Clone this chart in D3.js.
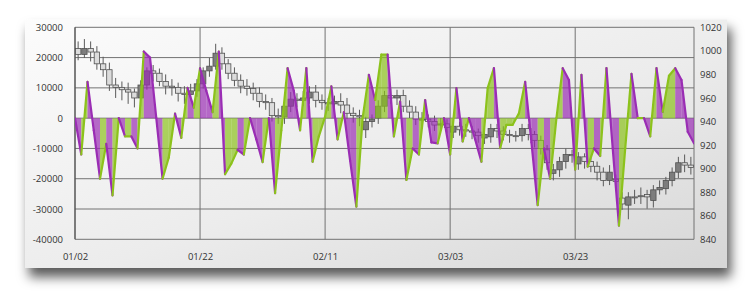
<!DOCTYPE html>
<html>
<head>
<meta charset="utf-8">
<script src="https://cdn.jsdelivr.net/npm/d3@7"></script>
<style>
  body { margin: 0; background: #fff; }
  svg { display: block; }
  .tick text { font-family: "Open Sans", "Noto Sans", sans-serif; font-size: 9.5px; fill: #333; }
</style>
</head>
<body>
<svg id="chart" width="749" height="294"></svg>
<script>
// tick labels
const xTickLabels = ["01/02", "01/22", "02/11", "03/03", "03/23"];
const leftTicks = [-40000, -30000, -20000, -10000, 0, 10000, 20000, 30000];
const rightTicks = [840, 860, 880, 900, 920, 940, 960, 980, 1000, 1020];

// area series, one value per day from 01/02
const areaValues = [
  0, -12000, 12000, -4000, -20000, -8500, -25500, 0, -6000, -6000,
  -10000, 22000, 20000, 0, -20000, -13000, 1500, -6500, 10000, 3500,
  16500, 9000, 2000, 22000, -18500, -15000, -10500, -12000, 0, -7000,
  -14500, 0, -24800, -4000, 16500, 9000, -4000, 16500, -14400, -6000,
  500, 10500, -7000, 2000, -14000, -29200, 0, 14300, 6000, 21000,
  21000, -6000, 5500, -20400, -10000, -12000, 6000, -8000, -8300, 0,
  -12000, 9900, -7700, 0, -7000, -14400, 9900, 16500, -9900, -2200,
  -2200, 1600, 12000, -8000, -28700, -10000, -20000, 0, 16500, 12600,
  -17000, 14300, -16000, -10000, -12500, 16500, -10000, -35500, -10000, 14600,
  0, 0, -6000, 16500, 2100, 14000, 16500, 12600, -4500, -8300
];

// candles, one per day
const candleOpen = [
  1002, 997, 1002, 999, 989, 984, 971, 969, 967, 965,
  960, 971, 983, 981, 974, 970, 969, 964, 963, 966,
  972, 983, 987, 998, 989, 981, 975, 970, 968, 964,
  957, 956, 945, 944, 953, 959, 958, 960, 965, 958,
  956, 955, 957, 954, 947, 945, 933, 940, 943, 953,
  962, 960, 962, 953, 948, 942, 942, 940, 937, 938,
  931, 936, 933, 932, 931, 926, 927, 934, 932, 929,
  928, 928, 934, 929, 924, 916, 896, 899, 906, 912,
  904, 910, 906, 902, 897, 890, 891, 875, 869, 876,
  877, 878, 873, 882, 883, 890, 897, 905, 903
];
const candleClose = [
  997, 1002, 999, 989, 984, 971, 969, 967, 965, 960,
  971, 983, 981, 974, 970, 969, 964, 963, 966, 972,
  983, 987, 998, 989, 981, 975, 970, 968, 964, 957,
  956, 945, 944, 953, 959, 958, 960, 965, 958, 956,
  955, 957, 954, 947, 945, 944, 940, 942, 953, 962,
  960, 962, 953, 948, 942, 942, 940, 937, 938, 935,
  936, 933, 932, 931, 928, 929, 934, 932, 929, 928,
  928, 934, 929, 924, 917, 905, 899, 906, 912, 911,
  910, 906, 902, 897, 890, 897, 889, 870, 876, 876,
  877, 876, 882, 884, 890, 897, 905, 903, 901
];
const candleHigh = [
  1008, 1010, 1008, 1004, 995, 990, 977, 974, 973, 968,
  975, 986, 988, 985, 980, 976, 973, 970, 972, 976,
  986, 994, 1006, 1003, 993, 986, 980, 976, 973, 969,
  963, 960, 951, 958, 965, 964, 966, 970, 971, 963,
  960, 962, 964, 960, 952, 950, 944, 946, 958, 966,
  968, 967, 967, 958, 953, 948, 946, 945, 943, 942,
  940, 940, 938, 936, 934, 933, 938, 938, 936, 933,
  932, 938, 938, 932, 928, 920, 904, 910, 917, 916,
  914, 913, 910, 906, 901, 903, 895, 880, 880, 882,
  884, 882, 886, 890, 893, 901, 910, 912, 910
];
const candleLow = [
  992, 994, 991, 984, 978, 966, 960, 958, 955, 952,
  953, 967, 974, 970, 963, 962, 957, 955, 958, 961,
  968, 978, 984, 984, 976, 970, 964, 962, 958, 952,
  950, 940, 938, 938, 948, 952, 953, 955, 952, 950,
  949, 948, 947, 942, 939, 936, 926, 935, 938, 948,
  955, 954, 948, 943, 937, 936, 935, 932, 932, 930,
  926, 928, 927, 925, 922, 921, 922, 926, 924, 922,
  923, 923, 924, 918, 912, 899, 890, 893, 900, 905,
  899, 900, 897, 890, 885, 886, 884, 865, 857, 870,
  870, 866, 867, 878, 878, 885, 892, 897, 895
];

const svg = d3.select("#chart");
const margin = { top: 27.3, right: 55, bottom: 54.7, left: 75 };
const width = 749, height = 294;
const innerRight = width - margin.right;     // 694
const innerBottom = height - margin.bottom;  // 239.3

// panel gradient + shadow
const defs = svg.append("defs");
const grad = defs.append("linearGradient").attr("id", "bg")
  .attr("x1", "0").attr("y1", "0").attr("x2", "1").attr("y2", "1");
grad.append("stop").attr("offset", "0%").attr("stop-color", "#fcfcfc");
grad.append("stop").attr("offset", "55%").attr("stop-color", "#ececec");
grad.append("stop").attr("offset", "100%").attr("stop-color", "#d6d6d6");
const filt = defs.append("filter").attr("id", "shadow")
  .attr("x", "-10%").attr("y", "-10%").attr("width", "130%").attr("height", "140%");
filt.append("feDropShadow").attr("dx", 4).attr("dy", 9).attr("stdDeviation", 6)
  .attr("flood-color", "#000").attr("flood-opacity", 0.65);
defs.append("clipPath").attr("id", "plotclip").append("rect")
  .attr("x", margin.left).attr("y", margin.top)
  .attr("width", innerRight - margin.left).attr("height", innerBottom - margin.top);

svg.append("rect")
  .attr("x", 25).attr("y", 19.5).attr("width", 702).attr("height", 248.5)
  .attr("fill", "url(#bg)").attr("filter", "url(#shadow)");

// scales
const startDate = new Date(2015, 0, 2);
const dayAt = i => d3.timeDay.offset(startDate, i);
const x = d3.scaleTime().domain([startDate, dayAt(99)]).range([margin.left, innerRight]);
const yL = d3.scaleLinear().domain([-40000, 30000]).range([innerBottom, margin.top]);
const yR = d3.scaleLinear().domain([840, 1020]).range([innerBottom, margin.top]);
const parseTick = d3.timeParse("%Y/%m/%d");
const xTickDates = xTickLabels.map(s => parseTick("2015/" + s));

// gridlines
const grid = svg.append("g").attr("stroke", "#727272").attr("stroke-width", 1);
grid.selectAll("line.h").data(leftTicks).enter().append("line")
  .attr("x1", margin.left).attr("x2", innerRight)
  .attr("y1", d => yL(d)).attr("y2", d => yL(d));
grid.selectAll("line.v").data(xTickDates.slice(1)).enter().append("line")
  .attr("y1", margin.top).attr("y2", innerBottom)
  .attr("x1", d => x(d)).attr("x2", d => x(d));
grid.append("line").attr("x1", innerRight).attr("x2", innerRight)
  .attr("y1", margin.top).attr("y2", innerBottom);
svg.append("line").attr("x1", margin.left).attr("x2", margin.left)
  .attr("y1", margin.top).attr("y2", innerBottom)
  .attr("stroke", "#555").attr("stroke-width", 1.5);

const plot = svg.append("g").attr("clip-path", "url(#plotclip)");

// candlesticks
const band = x(dayAt(1)) - x(dayAt(0));
const bodyW = band * 0.86;
const candles = candleOpen.map((o, i) => ({
  i, open: o, close: candleClose[i], high: candleHigh[i], low: candleLow[i]
}));
const cg = plot.append("g").selectAll("g").data(candles).enter().append("g");
cg.append("line")
  .attr("x1", d => x(dayAt(d.i)) + band / 2).attr("x2", d => x(dayAt(d.i)) + band / 2)
  .attr("y1", d => yR(d.high)).attr("y2", d => yR(d.low))
  .attr("stroke", "#5a5a5a").attr("stroke-width", 1);
cg.append("rect")
  .attr("x", d => x(dayAt(d.i)) + (band - bodyW) / 2)
  .attr("width", bodyW)
  .attr("y", d => yR(Math.max(d.open, d.close)))
  .attr("height", d => Math.max(1, Math.abs(yR(d.open) - yR(d.close))))
  .attr("fill", d => d.close > d.open ? "#7d7d7d" : "#dcdcdc")
  .attr("stroke", "#505050").attr("stroke-width", 0.8);

// area: each segment coloured by direction
const purple = "#9a2db4", green = "#8cc21c";
const segs = d3.pairs(areaValues.map((v, i) => ({ i, v })));
const ag = plot.append("g");
ag.selectAll("path.fill").data(segs).enter().append("path")
  .attr("d", ([a, b]) => `M${x(dayAt(a.i))},${yL(0)}L${x(dayAt(a.i))},${yL(a.v)}L${x(dayAt(b.i))},${yL(b.v)}L${x(dayAt(b.i))},${yL(0)}Z`)
  .attr("fill", ([a, b]) => b.v >= a.v ? green : purple)
  .attr("fill-opacity", 0.7);
ag.selectAll("line.seg").data(segs).enter().append("line")
  .attr("x1", ([a]) => x(dayAt(a.i))).attr("y1", ([a]) => yL(a.v))
  .attr("x2", ([, b]) => x(dayAt(b.i))).attr("y2", ([, b]) => yL(b.v))
  .attr("stroke", ([a, b]) => b.v >= a.v ? green : purple)
  .attr("stroke-width", 2.2).attr("stroke-linecap", "round");

// axes
svg.append("g").attr("transform", `translate(${margin.left},0)`)
  .call(d3.axisLeft(yL).tickValues(leftTicks).tickFormat(d => String(d)).tickSize(0).tickPadding(12))
  .call(g => g.select(".domain").remove());
svg.append("g").attr("transform", `translate(${innerRight},0)`)
  .call(d3.axisRight(yR).tickValues(rightTicks).tickFormat(d => String(d)).tickSize(0).tickPadding(6))
  .call(g => g.select(".domain").remove());
svg.append("g").attr("transform", `translate(0,${innerBottom})`)
  .call(d3.axisBottom(x).tickValues(xTickDates).tickFormat((d, i) => xTickLabels[i]).tickSize(0).tickPadding(14))
  .call(g => g.select(".domain").remove());
</script>
</body>
</html>
